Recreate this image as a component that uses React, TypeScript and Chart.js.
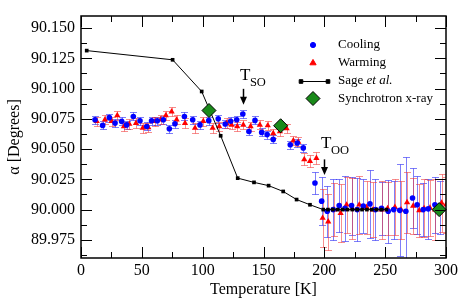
import React, { useEffect, useRef } from 'react';
import { Chart, registerables } from 'chart.js';

Chart.register(...registerables);

// ---------------- data ----------------
const coolingT = [11.5, 17.8, 23.3, 28, 33.4, 37.5, 43, 48.5, 54, 58, 62.7, 67.7, 72.6, 77.2, 85, 91.8, 97.8, 105, 112.8, 118.5, 123, 128, 133, 138, 143, 148.5, 153, 158, 172, 177.7, 182.7, 192.3, 197.8, 202.4, 207.3, 212.2, 217, 222.4, 227, 232, 237.5, 242, 247, 252.5, 257, 262, 267, 272.5, 276.3, 281.3, 285.4, 290.9, 295];
const coolingY = [90.0743, 90.0696, 90.0760, 90.0715, 90.0729, 90.0700, 90.0770, 90.0734, 90.0687, 90.0734, 90.0734, 90.0743, 90.0668, 90.0710, 90.0770, 90.0743, 90.0700, 90.0735, 90.0750, 90.0707, 90.0730, 90.0743, 90.0790, 90.0646, 90.0737, 90.0638, 90.0620, 90.0580, 90.0536, 90.0550, 90.0510, 90.0220, 90.0070, 89.9986, 90.0000, 90.0033, 90.0010, 90.0033, 90.0000, 90.0030, 90.0047, 90.0000, 90.0010, 89.9986, 90.0000, 89.9994, 89.9986, 90.0096, 90.0040, 90.0000, 90.0006, 90.0040, 90.0020];
const coolingErr = [0.0033, 0.0033, 0.0033, 0.0033, 0.0033, 0.0033, 0.0033, 0.0033, 0.0033, 0.0033, 0.0033, 0.0033, 0.0033, 0.0033, 0.0033, 0.0033, 0.0033, 0.0033, 0.0033, 0.0033, 0.0033, 0.0033, 0.0033, 0.0033, 0.0033, 0.0033, 0.0033, 0.0033, 0.0033, 0.0033, 0.0033, 0.009, 0.02, 0.021, 0.025, 0.022, 0.027, 0.024, 0.026, 0.022, 0.028, 0.025, 0.022, 0.026, 0.024, 0.038, 0.045, 0.025, 0.024, 0.022, 0.025, 0.023, 0.022];

const warmingT = [12.9, 19.7, 25.2, 29.8, 35.3, 39.7, 45.2, 50.7, 55.3, 60.8, 65.5, 69.8, 74.5, 78.6, 85.5, 93.7, 100.5, 108.2, 113.6, 119.7, 123.8, 128.4, 133.4, 139.4, 147, 153.5, 158, 163.5, 169, 174.5, 178.6, 183.5, 188.2, 193.5, 198.6, 203.2, 208, 213.4, 218.3, 223, 228.7, 234.8, 240, 247, 252, 258, 263, 268, 273, 278, 282, 286.8, 291, 296.4, 300];
const warmingY = [90.0730, 90.0743, 90.0730, 90.0778, 90.0687, 90.0707, 90.0715, 90.0674, 90.0679, 90.0730, 90.0743, 90.0778, 90.0810, 90.0743, 90.0715, 90.0674, 90.0730, 90.0674, 90.0687, 90.0715, 90.0700, 90.0687, 90.0700, 90.0687, 90.0700, 90.0695, 90.0630, 90.0645, 90.0670, 90.0570, 90.0560, 90.0415, 90.0400, 90.0425, 89.9930, 89.9900, 90.0000, 89.9970, 90.0040, 90.0010, 90.0040, 90.0020, 90.0000, 90.0000, 90.0010, 90.0020, 90.0000, 90.0060, 90.0030, 89.9994, 90.0010, 90.0014, 90.0000, 90.0055, 90.0040];
const warmingErr = [0.0038, 0.0038, 0.0038, 0.0038, 0.0038, 0.0038, 0.0038, 0.0038, 0.0038, 0.0038, 0.0038, 0.0038, 0.0038, 0.0038, 0.0038, 0.0038, 0.0038, 0.0038, 0.0038, 0.0038, 0.0038, 0.0038, 0.0038, 0.0038, 0.0038, 0.0038, 0.0038, 0.0038, 0.0038, 0.0038, 0.0038, 0.005, 0.005, 0.005, 0.024, 0.023, 0.022, 0.024, 0.023, 0.025, 0.024, 0.022, 0.023, 0.024, 0.022, 0.023, 0.024, 0.025, 0.023, 0.022, 0.024, 0.023, 0.025, 0.024, 0.023];

const sageT = [4.7, 75.3, 99.2, 114.8, 128.8, 142.2, 154.2, 166.2, 177.2, 188.2, 199.1, 203, 207, 211, 215, 219, 223, 227, 231, 235, 239, 243, 247, 251];
const sageY = [90.1314, 90.1238, 90.0976, 90.0610, 90.0260, 90.0225, 90.0198, 90.0150, 90.0083, 90.0040, 90.0000, 90.0000, 90.0000, 90.0000, 90.0000, 90.0000, 90.0000, 90.0000, 90.0000, 90.0000, 90.0000, 90.0000, 90.0000, 90.0000];

const xrayT = [105.2, 164.1, 294.4];
const xrayY = [90.0819, 90.0693, 90.0];

const xTicks = [0, 50, 100, 150, 200, 250, 300];
const yTicks = [89.975, 90.0, 90.025, 90.05, 90.075, 90.1, 90.125, 90.15];

const seriesNames = ['Cooling', 'Warming', 'Sage', 'Synchrotron x-ray'];

// annotations: [temperature, label baseline, arrow top, arrow tip]
const tsoAnnot = { t: 133.4, base: 90.1067, top: 90.0998, tip: 90.0866, sub: 'SO' };
const tooAnnot = { t: 199.5, base: 90.0512, top: 90.0415, tip: 90.0285, sub: 'OO' };

const FAMILY = 'Liberation Serif';
const FONT = "'Liberation Serif', 'Times New Roman', serif";

const errorBarsPlugin = {
  id: 'errorBars',
  beforeDatasetsDraw(chart: any) {
    const { ctx, chartArea: a, scales } = chart;
    const x = scales.x, y = scales.y;
    ctx.save();
    ctx.beginPath();
    ctx.rect(a.left, a.top, a.right - a.left, a.bottom - a.top);
    ctx.clip();
    chart.data.datasets.forEach((ds: any) => {
      if (!ds.errors) return;
      ctx.strokeStyle = ds.errorColor;
      ctx.lineWidth = 1;
      ds.data.forEach((p: any, i: number) => {
        const e = ds.errors[i];
        const px = Math.round(x.getPixelForValue(p.x)) + 0.5;
        const y1 = Math.round(y.getPixelForValue(p.y - e)) + 0.5;
        const y2 = Math.round(y.getPixelForValue(p.y + e)) + 0.5;
        ctx.beginPath();
        ctx.moveTo(px, y1); ctx.lineTo(px, y2);
        ctx.moveTo(px - 3.5, y1); ctx.lineTo(px + 3.5, y1);
        ctx.moveTo(px - 3.5, y2); ctx.lineTo(px + 3.5, y2);
        ctx.stroke();
      });
    });
    ctx.restore();
  },
};

const framePlugin = {
  id: 'frame',
  afterDatasetsDraw(chart: any) {
    const { ctx, chartArea: a, scales } = chart;
    const x = scales.x, y = scales.y;
    ctx.save();
    ctx.strokeStyle = '#000';
    ctx.lineWidth = 1;
    const seg = (x1: number, y1: number, x2: number, y2: number) => {
      ctx.beginPath(); ctx.moveTo(x1, y1); ctx.lineTo(x2, y2); ctx.stroke();
    };
    const MAJ = 11, MIN = 6;
    const xStep = xTicks[1] - xTicks[0];
    xTicks.forEach((v, i) => {
      const px = Math.round(x.getPixelForValue(v)) + 0.5;
      seg(px, a.bottom, px, a.bottom - MAJ);
      seg(px, a.top, px, a.top + MAJ);
      if (i < xTicks.length - 1) {
        const mx = Math.round(x.getPixelForValue(v + xStep / 2)) + 0.5;
        seg(mx, a.bottom, mx, a.bottom - MIN);
        seg(mx, a.top, mx, a.top + MIN);
      }
    });
    const yStep = yTicks[1] - yTicks[0];
    const yMinor = [yTicks[0] - yStep / 2, ...yTicks.map((v) => v + yStep / 2)];
    yTicks.forEach((v) => {
      const py = Math.round(y.getPixelForValue(v)) + 0.5;
      seg(a.left, py, a.left + MAJ, py);
      seg(a.right, py, a.right - MAJ, py);
    });
    yMinor.forEach((v) => {
      const py = Math.round(y.getPixelForValue(v)) + 0.5;
      if (py < a.top || py > a.bottom) return;
      seg(a.left, py, a.left + MIN, py);
      seg(a.right, py, a.right - MIN, py);
    });
    ctx.lineWidth = 1.5;
    ctx.strokeRect(a.left, a.top, a.right - a.left, a.bottom - a.top);
    ctx.restore();
  },
};

function drawPoint(ctx: any, style: string, cx: number, cy: number, r: number, fill: string, stroke: string) {
  ctx.beginPath();
  if (style === 'circle') {
    ctx.arc(cx, cy, r, 0, Math.PI * 2);
  } else if (style === 'triangle') {
    ctx.moveTo(cx, cy - r);
    ctx.lineTo(cx + r * Math.sin(2 * Math.PI / 3), cy - r * Math.cos(2 * Math.PI / 3));
    ctx.lineTo(cx + r * Math.sin(4 * Math.PI / 3), cy - r * Math.cos(4 * Math.PI / 3));
    ctx.closePath();
  } else if (style === 'rect') {
    ctx.rect(cx - r, cy - r, 2 * r, 2 * r);
  } else if (style === 'diamond') {
    ctx.moveTo(cx - r, cy); ctx.lineTo(cx, cy - r); ctx.lineTo(cx + r, cy); ctx.lineTo(cx, cy + r); ctx.closePath();
  }
  ctx.fillStyle = fill; ctx.fill();
  ctx.strokeStyle = stroke; ctx.lineWidth = 1; ctx.stroke();
}

const legendPlugin = {
  id: 'customLegend',
  afterDraw(chart: any) {
    const { ctx } = chart;
    ctx.save();
    const mx = 313, tx = 338;
    const rows = [45, 63, 81, 98.5];
    ctx.font = `13px ${FONT}`;
    ctx.fillStyle = '#000';
    ctx.textBaseline = 'middle';
    ctx.textAlign = 'left';
    drawPoint(ctx, 'circle', mx, rows[0], 2.6, '#0000ff', '#0000ff');
    ctx.fillStyle = '#000'; ctx.fillText(seriesNames[0], tx, rows[0]);
    drawPoint(ctx, 'triangle', mx, rows[1], 3.6, '#ff0000', '#ff0000');
    ctx.fillStyle = '#000'; ctx.fillText(seriesNames[1], tx, rows[1]);
    ctx.strokeStyle = '#000'; ctx.lineWidth = 1;
    ctx.beginPath(); ctx.moveTo(301, rows[2] + 0.5); ctx.lineTo(328, rows[2] + 0.5); ctx.stroke();
    drawPoint(ctx, 'rect', 301, rows[2] + 0.5, 1.8, '#000', '#000');
    drawPoint(ctx, 'rect', 328, rows[2] + 0.5, 1.8, '#000', '#000');
    ctx.fillStyle = '#000';
    const s = seriesNames[2] + ' ';
    ctx.fillText(s, tx, rows[2]);
    const w = ctx.measureText(s).width;
    ctx.font = `italic 13px ${FONT}`;
    ctx.fillText('et al.', tx + w, rows[2]);
    ctx.font = `13px ${FONT}`;
    drawPoint(ctx, 'diamond', mx, rows[3], 7, '#1a8a1a', '#000');
    ctx.fillStyle = '#000'; ctx.fillText(seriesNames[3], tx, rows[3]);

    // annotations
    const x = chart.scales.x, y = chart.scales.y;
    [tsoAnnot, tooAnnot].forEach((an) => {
      const ax = Math.round(x.getPixelForValue(an.t)) + 0.5;
      const base = y.getPixelForValue(an.base);
      const top = y.getPixelForValue(an.top);
      const tip = y.getPixelForValue(an.tip);
      ctx.fillStyle = '#000';
      ctx.textBaseline = 'alphabetic';
      ctx.font = `17px ${FONT}`;
      const tl = ax - 3.5;
      ctx.fillText('T', tl, base);
      const tw = ctx.measureText('T').width;
      ctx.font = `12.5px ${FONT}`;
      ctx.fillText(an.sub, tl + tw - 0.5, base + 6);
      ctx.strokeStyle = '#000';
      ctx.lineWidth = 1.5;
      ctx.beginPath(); ctx.moveTo(ax, top); ctx.lineTo(ax, tip - 5); ctx.stroke();
      ctx.beginPath();
      ctx.moveTo(ax - 3.5, tip - 8); ctx.lineTo(ax + 3.5, tip - 8); ctx.lineTo(ax, tip); ctx.closePath();
      ctx.fill();
    });
    ctx.restore();
  },
};

function buildChart(canvas: HTMLCanvasElement) {
  return new Chart(canvas, {
    type: 'scatter',
    data: {
      datasets: [
        {
          label: seriesNames[3],
          data: xrayT.map((t, i) => ({ x: t, y: xrayY[i] })),
          pointStyle: 'rectRot',
          pointRadius: 7,
          backgroundColor: '#1a8a1a',
          borderColor: '#000',
          pointBorderWidth: 1,
          showLine: false,
          order: 0,
          clip: 8,
        } as any,
        {
          label: seriesNames[2],
          data: sageT.map((t, i) => ({ x: t, y: sageY[i] })),
          pointStyle: 'rect',
          pointRadius: 2.6,
          backgroundColor: '#000',
          borderColor: '#000',
          borderWidth: 1,
          pointBorderWidth: 0,
          showLine: true,
          order: 1,
        } as any,
        {
          label: seriesNames[0],
          data: coolingT.map((t, i) => ({ x: t, y: coolingY[i] })),
          errors: coolingErr,
          errorColor: 'rgba(40,40,245,0.6)',
          pointStyle: 'circle',
          pointRadius: 2.8,
          backgroundColor: '#0000ff',
          borderColor: '#0000ff',
          pointBorderWidth: 0,
          showLine: false,
          order: 2,
          clip: 0,
        } as any,
        {
          label: seriesNames[1],
          data: warmingT.map((t, i) => ({ x: t, y: warmingY[i] })),
          errors: warmingErr,
          errorColor: 'rgba(240,50,50,0.55)',
          pointStyle: 'triangle',
          pointRadius: 3.6,
          backgroundColor: '#ff0000',
          borderColor: '#ff0000',
          pointBorderWidth: 0,
          showLine: false,
          order: 3,
          clip: 0,
        } as any,
      ],
    },
    options: {
      animation: false,
      responsive: false,
      maintainAspectRatio: false,
      layout: { padding: { top: 16, right: 17, left: 0, bottom: 0 } },
      plugins: {
        legend: { display: false },
        tooltip: { enabled: false },
      },
      scales: {
        x: {
          type: 'linear',
          min: 0,
          max: 300,
          grid: { display: false, drawTicks: false },
          border: { display: false },
          afterBuildTicks: (s: any) => { s.ticks = xTicks.map((v) => ({ value: v })); },
          afterFit: (s: any) => { s.height = 44; },
          ticks: {
            color: '#000',
            font: { family: FONT, size: 16 },
            padding: 3,
            maxRotation: 0,
            autoSkip: false,
            callback: (v: any) => String(v),
          },
          title: {
            display: true,
            text: 'Temperature [K]',
            color: '#000',
            font: { family: FONT, size: 16 },
            padding: { top: 0, bottom: 3 },
          },
        },
        y: {
          type: 'linear',
          min: 89.96,
          max: 90.16,
          grid: { display: false, drawTicks: false },
          border: { display: false },
          afterBuildTicks: (s: any) => { s.ticks = yTicks.map((v) => ({ value: v })); },
          afterFit: (s: any) => { s.width = 81; },
          ticks: {
            color: '#000',
            font: { family: FONT, size: 16 },
            padding: 6,
            autoSkip: false,
            callback: (v: any) => Number(v).toFixed(3),
          },
          title: {
            display: true,
            text: 'α [Degrees]',
            color: '#000',
            font: { family: FONT, size: 16 },
            padding: { top: 5, bottom: 0 },
          },
        },
      },
    } as any,
    plugins: [errorBarsPlugin, framePlugin, legendPlugin],
  });
}

export default function App() {
  const canvasRef = useRef<HTMLCanvasElement | null>(null);

  useEffect(() => {
    document.body.style.margin = '0';
    const canvas = canvasRef.current;
    if (!canvas) return;
    let chart: Chart | null = null;
    let cancelled = false;
    const make = () => {
      if (cancelled || chart) return;
      chart = buildChart(canvas);
    };
    const fontsApi = (document as any).fonts;
    if (fontsApi && fontsApi.load) {
      Promise.all([
        fontsApi.load(`16px "${FAMILY}"`),
        fontsApi.load(`italic 13px "${FAMILY}"`),
      ]).then(make, make);
    } else {
      make();
    }
    return () => {
      cancelled = true;
      if (chart) chart.destroy();
    };
  }, []);

  return (
    <div style={{ position: 'absolute', left: 0, top: 0, width: 463, height: 302, background: '#fff' }}>
      <canvas ref={canvasRef} width={463} height={302} style={{ width: 463, height: 302 }} />
    </div>
  );
}
